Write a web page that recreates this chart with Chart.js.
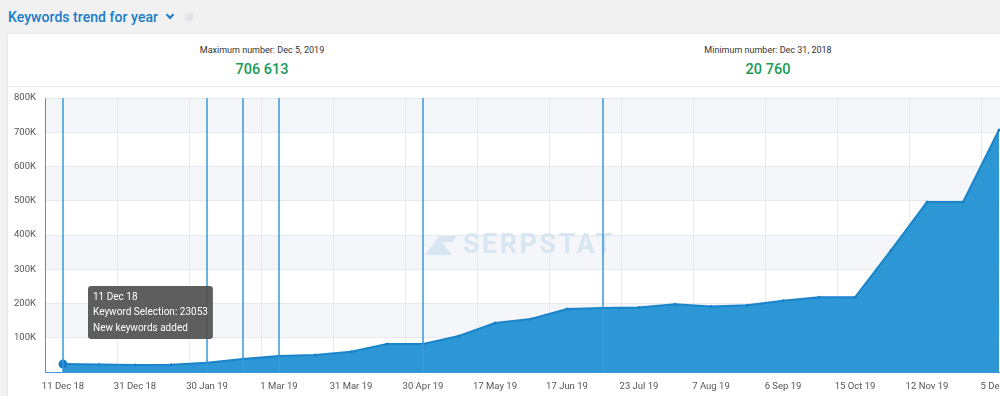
<!DOCTYPE html>
<html>
<head>
<meta charset="utf-8">
<script src="https://cdn.jsdelivr.net/npm/chart.js@4.4.0/dist/chart.umd.min.js"></script>
<style>
  html, body { margin: 0; padding: 0; }
  body { width: 1000px; height: 396px; overflow: hidden; position: relative; background: #f1f1f1; font-family: Roboto, "Noto Sans", sans-serif; }
  #title { position: absolute; left: 8px; top: 9px; font-size: 14px; font-weight: 500; color: #1a7cc8; white-space: nowrap; letter-spacing: 0.05px; }
  #title .chev { display: inline-block; width: 4px; height: 4px; border-right: 2px solid #1a7cc8; border-bottom: 2px solid #1a7cc8; transform: rotate(45deg); margin-left: 9px; vertical-align: 4px; }
  #title .info { display: inline-block; width: 8px; height: 8px; border-radius: 2px; background: #e1e4e8; margin-left: 12px; vertical-align: 1px; }
  #card { position: absolute; left: 7px; top: 33px; width: 1030px; height: 380px; background: #fff; border: 1px solid #e8e8e8; }
  #stats { position: absolute; left: 9px; top: 33px; width: 1012px; height: 53px; display: flex; border-bottom: 1px solid #e3e6ea; }
  .stat { width: 506px; text-align: center; }
  .stat .lbl { margin-top: 12px; font-size: 9px; color: #333; line-height: 11px; }
  .stat .num { margin-top: 5px; font-size: 14.5px; font-weight: 500; color: #1b9a57; line-height: 17px; }
  #wrap { position: absolute; left: 8px; top: 88px; width: 1030px; height: 308px; }
</style>
</head>
<body>
<div id="card"></div>
<div id="title">Keywords trend for year<span class="chev"></span><span class="info"></span></div>
<div id="stats">
  <div class="stat"><div class="lbl">Maximum number: Dec 5, 2019</div><div class="num">706 613</div></div>
  <div class="stat"><div class="lbl">Minimum number: Dec 31, 2018</div><div class="num">20 760</div></div>
</div>
<div id="wrap"><canvas id="c"></canvas></div>
<script>
// Tick labels shown on the x axis (every second category)
const tickLabels = ['11 Dec 18','31 Dec 18','30 Jan 19','1 Mar 19','31 Mar 19','30 Apr 19','17 May 19','17 Jun 19','23 Jul 19','7 Aug 19','6 Sep 19','15 Oct 19','12 Nov 19','5 Dec 19'];
// Keyword Selection values, one per category (27 points)
const keywordValues = [23053, 22000, 20760, 21000, 27000, 38000, 47000, 50000, 59000, 82000, 82000, 105000, 143000, 155000, 184000, 187000, 188000, 198000, 191000, 195000, 208000, 218000, 218000, 355000, 496000, 496000, 706613];
// Categories where "New keywords added" markers are drawn
const markerIdx = [0, 4, 5, 6, 10, 15];
const markerNote = 'New keywords added';
// y-axis ticks
const yTicks = [0, 100000, 200000, 300000, 400000, 500000, 600000, 700000, 800000];

const categories = [];
tickLabels.forEach((t, i) => { categories.push(t); if (i < tickLabels.length - 1) categories.push(''); });

const BLUE_LINE = '#3a98da';

const bandsPlugin = {
  id: 'bands',
  beforeDraw(chart) {
    const { ctx, chartArea: a, scales: { y } } = chart;
    ctx.save();
    ctx.fillStyle = '#f5f6fa';
    for (let i = yTicks.length - 1; i > 0; i -= 2) {
      const t = y.getPixelForValue(yTicks[i]);
      const b = y.getPixelForValue(yTicks[i - 1]);
      ctx.fillRect(a.left, t, a.right - a.left, b - t);
    }
    ctx.restore();
  }
};

const watermarkPlugin = {
  id: 'watermark',
  beforeDatasetsDraw(chart) {
    const { ctx, chartArea: a } = chart;
    const cx = (a.left + a.right) / 2 - 16;
    const cy = (a.top + a.bottom) / 2 + 10;
    ctx.save();
    ctx.fillStyle = '#d8e6f2';
    ctx.font = 'bold 27px Roboto';
    ctx.textBaseline = 'middle';
    ctx.textAlign = 'left';
    if ('letterSpacing' in ctx) ctx.letterSpacing = '2.5px';
    ctx.fillText('SERPSTAT', cx - 52, cy + 1);
    // small logo mark
    ctx.beginPath();
    ctx.moveTo(cx - 90, cy + 10); ctx.lineTo(cx - 76, cy - 9); ctx.lineTo(cx - 58, cy - 9);
    ctx.lineTo(cx - 62, cy - 3); ctx.lineTo(cx - 73, cy - 3); ctx.lineTo(cx - 63, cy + 10); ctx.closePath();
    ctx.fill();
    ctx.restore();
  }
};

const markersPlugin = {
  id: 'markers',
  afterDatasetsDraw(chart) {
    const { ctx, chartArea: a, scales: { x } } = chart;
    ctx.save();
    ctx.strokeStyle = BLUE_LINE;
    ctx.lineWidth = 1.5;
    markerIdx.forEach(i => {
      const px = x.getPixelForValue(i);
      ctx.beginPath();
      ctx.moveTo(px, a.top);
      ctx.lineTo(px, a.bottom);
      ctx.stroke();
    });
    ctx.restore();
  }
};

Chart.Tooltip.positioners.nearPoint = function (elements) {
  if (!elements.length) return false;
  const el = elements[0].element;
  return { x: el.x + 28, y: el.y - 25 };
};

const chart = new Chart(document.getElementById('c'), {
  type: 'line',
  data: {
    labels: categories,
    datasets: [{
      label: 'Keyword Selection',
      data: keywordValues,
      fill: 'origin',
      backgroundColor: '#2c97d4',
      borderColor: '#1a84cb',
      borderWidth: 2,
      tension: 0,
      pointRadius: keywordValues.map((v, i) => i === 0 ? 4.5 : 1.5),
      pointHoverRadius: keywordValues.map((v, i) => i === 0 ? 4.5 : 1.5),
      pointBackgroundColor: '#1a7ec6',
      pointBorderWidth: 0,
      pointHoverBorderWidth: 0,
      pointHoverBackgroundColor: '#1a7ec6'
    }]
  },
  options: {
    responsive: true,
    maintainAspectRatio: false,
    animation: false,
    events: [],
    layout: { padding: { left: 6, right: 21, top: 10, bottom: 0 } },
    plugins: {
      legend: { display: false },
      tooltip: {
        enabled: true,
        position: 'nearPoint',
        xAlign: 'left',
        yAlign: 'bottom',
        caretSize: 0,
        caretPadding: 0,
        cornerRadius: 3,
        backgroundColor: 'rgba(80,80,80,0.92)',
        displayColors: false,
        padding: { left: 5, right: 5, top: 5, bottom: 5 },
        titleFont: { family: 'Roboto', size: 10, weight: 'normal', lineHeight: 1.2 },
        bodyFont: { family: 'Roboto', size: 10, lineHeight: 1.2 },
        titleMarginBottom: 3.5,
        bodySpacing: 3.5,
        callbacks: {
          title: items => categories[items[0].dataIndex],
          label: item => 'Keyword Selection: ' + item.raw,
          afterBody: items => markerIdx.includes(items[0].dataIndex) ? markerNote : ''
        }
      }
    },
    scales: {
      x: {
        type: 'category',
        offset: true,
        border: { display: true, color: BLUE_LINE, width: 1 },
        grid: {
          offset: true,
          drawTicks: false,
          color: ctx => (categories[ctx.index] === '' ? 'rgba(0,0,0,0)' : '#e6e9f0'),
          lineWidth: 1
        },
        ticks: {
          autoSkip: false,
          maxRotation: 0,
          padding: 9,
          color: '#555',
          font: { family: 'Roboto', size: 9.5 },
          callback: (v, i) => categories[i]
        },
        afterFit: s => { s.height = 24; }
      },
      y: {
        min: 0,
        max: 800000,
        border: { display: true, color: BLUE_LINE, width: 1 },
        grid: { drawTicks: false, color: '#e6e9f0', lineWidth: 1 },
        afterBuildTicks: s => { s.ticks = yTicks.map(v => ({ value: v })); },
        ticks: {
          crossAlign: 'far',
          color: '#555',
          font: { family: 'Roboto', size: 9.5 },
          callback: v => (v === 0 ? '' : (v / 1000) + 'K')
        },
        afterFit: s => { s.width = 31; }
      }
    }
  },
  plugins: [bandsPlugin, watermarkPlugin, markersPlugin]
});

chart.setActiveElements([{ datasetIndex: 0, index: 0 }]);
chart.tooltip.setActiveElements([{ datasetIndex: 0, index: 0 }], { x: 0, y: 0 });
chart.update('none');
</script>
</body>
</html>
